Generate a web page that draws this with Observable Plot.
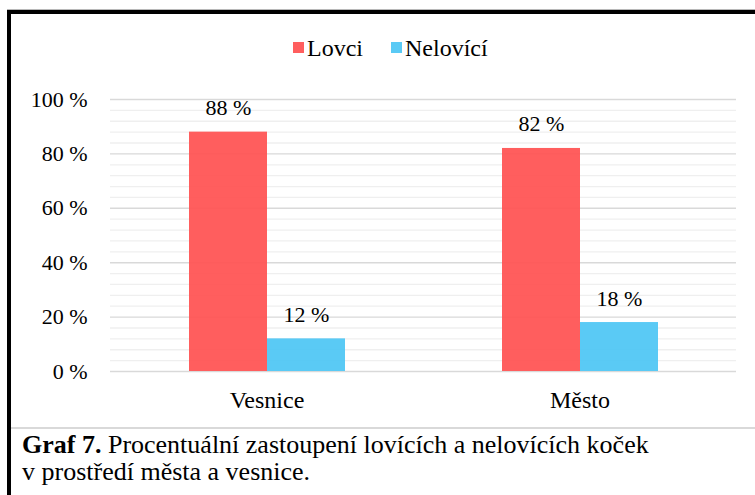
<!DOCTYPE html>
<html>
<head>
<meta charset="utf-8">
<script src="https://cdn.jsdelivr.net/npm/d3@7"></script>
<script src="https://cdn.jsdelivr.net/npm/@observablehq/plot@0.6"></script>
<style>
  html, body { margin: 0; padding: 0; background: #fff; }
  #page { position: relative; width: 755px; height: 495px; overflow: hidden; font-family: "Liberation Serif", "Times New Roman", serif; color: #000; }
  #chart { position: absolute; left: 0; top: 0; }
  .abs { position: absolute; }
</style>
</head>
<body>
<div id="page">
  <div id="chart"></div>
  <div class="abs" style="left:7px;top:9px;width:748px;height:1px;background:#b8b8b8"></div>
  <div class="abs" style="left:7px;top:10px;width:748px;height:4px;background:#000"></div>
  <div class="abs" style="left:7px;top:10px;width:4px;height:485px;background:#000"></div>
  <div class="abs" style="left:11px;top:427px;width:744px;height:2px;background:#d9d9d9"></div>
  <div id="legend"></div>
  <div class="abs" id="caption" style="left:22px;top:432px;font-size:26px;line-height:26.5px;white-space:nowrap"></div>
</div>
<script>
const categories = ["Vesnice", "Město"];
const series = ["Lovci", "Nelovící"];
const lovci = [88, 82];
const nelovici = [12, 18];
const colors = ["#ff5252", "#4ec6f4"];
const majorTicks = [0, 20, 40, 60, 80, 100];
const minorTicks = [4, 8, 12, 16, 24, 28, 32, 36, 44, 48, 52, 56, 64, 68, 72, 76, 84, 88, 92, 96];
const captionBold = "Graf 7.";
const captionText = " Procentuální zastoupení lovících a nelovících koček";
const captionLine2 = "v prostředí města a vesnice.";

const data = [];
categories.forEach((c, i) => {
  data.push({category: c, series: series[0], value: lovci[i]});
  data.push({category: c, series: series[1], value: nelovici[i]});
});

const serif = "'Liberation Serif', 'Times New Roman', serif";
const chart = Plot.plot({
  width: 755,
  height: 420,
  marginTop: 99,
  marginBottom: 49,
  marginLeft: 109,
  marginRight: 19,
  style: {background: "transparent", fontFamily: serif, color: "#000"},
  fx: {domain: categories, padding: 0, label: null},
  x: {domain: series, paddingInner: 0, paddingOuter: 1, axis: null},
  y: {domain: [0, 100], axis: null},
  color: {domain: series, range: colors},
  marks: [
    Plot.ruleY(minorTicks, {stroke: "#efefef", strokeWidth: 1.3}),
    Plot.ruleY(majorTicks, {stroke: "#d9d9d9", strokeWidth: 1.4}),
    Plot.barY(data, {fx: "category", x: "series", y: "value", fill: "series", fillOpacity: 0.93, inset: 0}),
    Plot.text(data, {fx: "category", x: "series", y: "value", text: d => d.value + " %", lineAnchor: "bottom", dy: -17, fontSize: 22, fontFamily: serif, fill: "#000"}),
    Plot.axisY(majorTicks, {anchor: "left", tickSize: 0, tickPadding: 23, fontSize: 22, fontFamily: serif, tickFormat: d => d + " %", label: null}),
    Plot.axisFx({anchor: "bottom", tickSize: 0, tickPadding: 19, fontSize: 24, fontFamily: serif, label: null})
  ]
});
document.getElementById("chart").appendChild(chart);

// Legend
const legend = document.getElementById("legend");
const legendPos = [{sq: 293, tx: 307}, {sq: 391, tx: 405}];
series.forEach((s, i) => {
  const sq = document.createElement("div");
  sq.className = "abs";
  sq.style.cssText = `left:${legendPos[i].sq}px;top:42px;width:11px;height:11px;background:${colors[i]};opacity:0.93`;
  legend.appendChild(sq);
  const t = document.createElement("div");
  t.className = "abs";
  t.style.cssText = `left:${legendPos[i].tx}px;top:36px;font-size:24px;line-height:24px;white-space:nowrap;font-family:'Liberation Serif','Times New Roman',serif`;
  t.textContent = s;
  legend.appendChild(t);
});

// Caption
const cap = document.getElementById("caption");
const b = document.createElement("b");
b.textContent = captionBold;
cap.appendChild(b);
cap.appendChild(document.createTextNode(captionText));
cap.appendChild(document.createElement("br"));
cap.appendChild(document.createTextNode(captionLine2));
</script>
</body>
</html>
